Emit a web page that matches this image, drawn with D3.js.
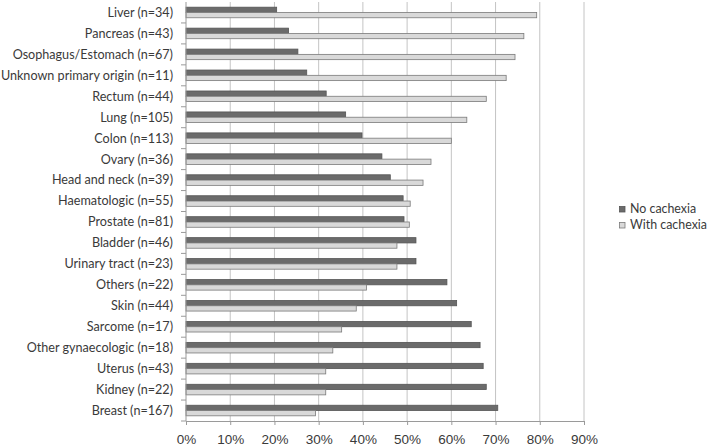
<!DOCTYPE html>
<html>
<head>
<meta charset="utf-8">
<script src="https://cdn.jsdelivr.net/npm/d3@7"></script>
<style>
  body { margin: 0; background: #fff; }
  svg { display: block; font-family: Lato, "Open Sans", sans-serif; }
</style>
</head>
<body>
<div id="chart"></div>
<script>
// Cancer sites, top to bottom
const categories = [
  'Liver (n=34)', 'Pancreas (n=43)', 'Osophagus/Estomach (n=67)', 'Unknown primary origin (n=11)',
  'Rectum (n=44)', 'Lung (n=105)', 'Colon (n=113)', 'Ovary (n=36)', 'Head and neck (n=39)',
  'Haematologic (n=55)', 'Prostate (n=81)', 'Bladder (n=46)', 'Urinary tract (n=23)',
  'Others (n=22)', 'Skin (n=44)', 'Sarcome (n=17)', 'Other gynaecologic (n=18)',
  'Uterus (n=43)', 'Kidney (n=22)', 'Breast (n=167)'
];

// Percentages
const noCachexia = [20.5, 23.2, 25.3, 27.3, 31.7, 36.1, 39.8, 44.3, 46.2, 49.1,
  49.3, 52.0, 52.0, 59.0, 61.2, 64.5, 66.5, 67.2, 67.9, 70.5];
const withCachexia = [79.3, 76.4, 74.4, 72.4, 67.9, 63.5, 60.0, 55.4, 53.6, 50.7,
  50.5, 47.7, 47.7, 40.8, 38.5, 35.2, 33.2, 31.6, 31.6, 29.3];

const seriesNames = ['No cachexia', 'With cachexia'];
const xTicks = [0, 10, 20, 30, 40, 50, 60, 70, 80, 90];

const width = 709, height = 447;
const margin = { top: 2, right: 125, bottom: 26, left: 186 };
const innerW = width - margin.left - margin.right;
const innerH = height - margin.top - margin.bottom;

const fills = { 'No cachexia': '#6b6b6b', 'With cachexia': '#d9d9d9' };
const strokes = { 'No cachexia': '#555555', 'With cachexia': '#7a7a7a' };
const textColor = '#3a3a3a';

const svg = d3.select('#chart').append('svg')
  .attr('width', width)
  .attr('height', height);

const g = svg.append('g')
  .attr('transform', `translate(${margin.left},${margin.top})`);

const x = d3.scaleLinear().domain([0, 90]).range([0, innerW]);
const y = d3.scaleBand().domain(categories).range([0, innerH]).padding(0);
const ySub = d3.scaleBand().domain(seriesNames).range([0, y.bandwidth()])
  .paddingInner(0).paddingOuter(0.98);

// Gridlines
g.append('g')
  .selectAll('line')
  .data(xTicks.slice(1))
  .join('line')
  .attr('x1', d => x(d)).attr('x2', d => x(d))
  .attr('y1', 0).attr('y2', innerH)
  .attr('stroke', '#c4c4c4')
  .attr('stroke-width', 1);

// Bars
const rows = categories.map((c, i) => ({
  cat: c,
  vals: [
    { s: 'No cachexia', v: noCachexia[i] },
    { s: 'With cachexia', v: withCachexia[i] }
  ]
}));

g.append('g')
  .selectAll('g')
  .data(rows)
  .join('g')
  .attr('transform', d => `translate(0,${y(d.cat)})`)
  .selectAll('rect')
  .data(d => d.vals)
  .join('rect')
  .attr('x', x(0))
  .attr('y', d => ySub(d.s))
  .attr('width', d => x(d.v))
  .attr('height', ySub.bandwidth())
  .attr('fill', d => fills[d.s])
  .attr('stroke', d => strokes[d.s])
  .attr('stroke-width', 0.8);

// X axis
const xAxis = g.append('g')
  .attr('transform', `translate(0,${innerH})`)
  .call(d3.axisBottom(x).tickValues(xTicks).tickFormat(d => d + '%').tickSizeOuter(0).tickSize(4).tickPadding(9));
xAxis.select('.domain').attr('stroke', '#9a9a9a');
xAxis.selectAll('.tick line').attr('stroke', '#9a9a9a');
xAxis.selectAll('text')
  .attr('fill', textColor)
  .style('font-size', '13.5px');

// Y axis with tick marks at band boundaries
const yAxisG = g.append('g');
yAxisG.append('line')
  .attr('x1', 0).attr('x2', 0)
  .attr('y1', 0).attr('y2', innerH)
  .attr('stroke', '#9a9a9a');
yAxisG.selectAll('.ytick')
  .data(categories)
  .join('line')
  .attr('class', 'ytick')
  .attr('x1', -5).attr('x2', 0)
  .attr('y1', d => y(d) + y.bandwidth())
  .attr('y2', d => y(d) + y.bandwidth())
  .attr('stroke', '#9a9a9a');
yAxisG.selectAll('.ylabel')
  .data(categories)
  .join('text')
  .attr('class', 'ylabel')
  .attr('x', -13)
  .attr('y', d => y(d) + y.bandwidth() / 2)
  .attr('dy', '0.35em')
  .attr('text-anchor', 'end')
  .attr('fill', textColor)
  .style('font-size', '12.6px')
  .text(d => d);

// Legend
const legend = svg.append('g')
  .attr('transform', 'translate(619,204)');
const items = legend.selectAll('g')
  .data(seriesNames)
  .join('g')
  .attr('transform', (d, i) => `translate(0,${i * 16})`);
items.append('rect')
  .attr('x', 0.5).attr('y', 2.5)
  .attr('width', 5.5).attr('height', 5.5)
  .attr('fill', d => fills[d])
  .attr('stroke', d => strokes[d])
  .attr('stroke-width', 0.8);
items.append('text')
  .attr('x', 11)
  .attr('y', 5)
  .attr('dy', '0.35em')
  .attr('fill', textColor)
  .style('font-size', '12.4px')
  .text(d => d);
</script>
</body>
</html>
